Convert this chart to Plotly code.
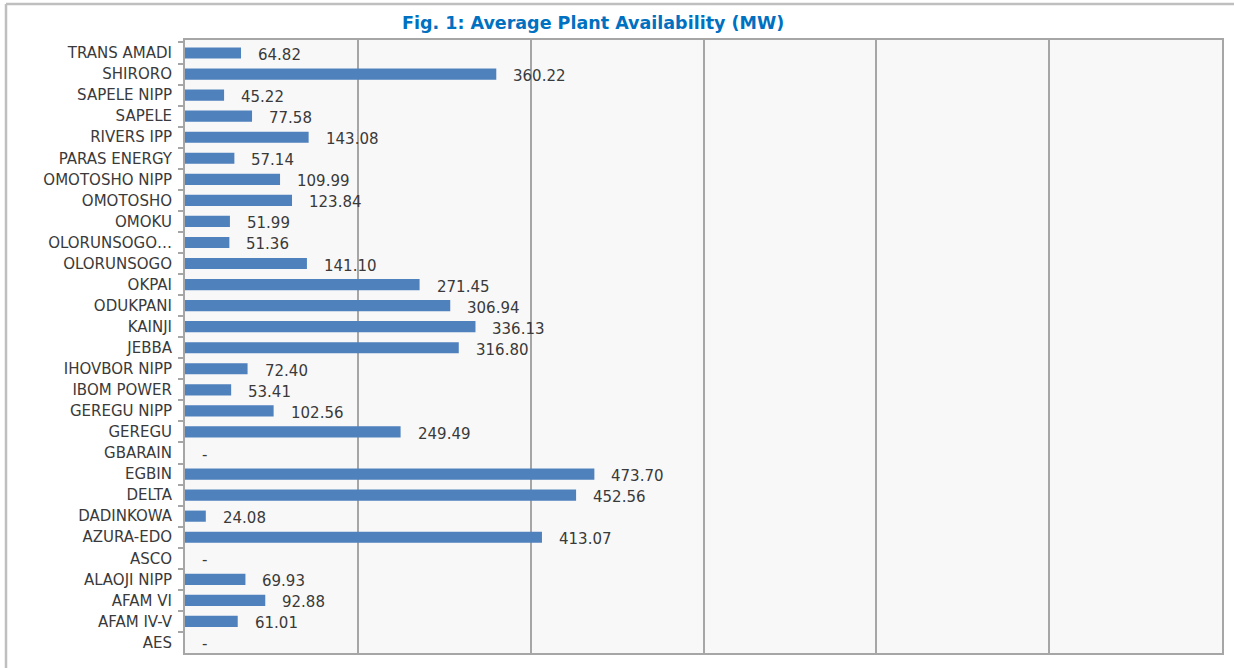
import plotly.graph_objects as go

categories = ["TRANS AMADI", "SHIRORO", "SAPELE NIPP", "SAPELE", "RIVERS IPP", "PARAS ENERGY",
              "OMOTOSHO NIPP", "OMOTOSHO", "OMOKU", "OLORUNSOGO…", "OLORUNSOGO", "OKPAI",
              "ODUKPANI", "KAINJI", "JEBBA", "IHOVBOR NIPP", "IBOM POWER", "GEREGU NIPP",
              "GEREGU", "GBARAIN", "EGBIN", "DELTA", "DADINKOWA", "AZURA-EDO", "ASCO",
              "ALAOJI NIPP", "AFAM VI", "AFAM IV-V", "AES"]
values = [64.82, 360.22, 45.22, 77.58, 143.08, 57.14, 109.99, 123.84, 51.99, 51.36, 141.10,
          271.45, 306.94, 336.13, 316.80, 72.40, 53.41, 102.56, 249.49, 0, 473.70, 452.56,
          24.08, 413.07, 0, 69.93, 92.88, 61.01, 0]
labels = ["-" if v == 0 else f"{v:.2f}" for v in values]

W, H = 1234, 668
L, R, T, B = 185, 12, 40, 15
pw, ph = W - L - R, H - T - B

FONT = "DejaVu Sans"
TXT = "#3a3a3a"
GRID = "#a6a6a6"

fig = go.Figure()
fig.add_trace(go.Bar(
    y=categories, x=values, orientation="h",
    marker=dict(color="#4f81bd", line=dict(width=0)),
    hoverinfo="x+y",
))

for c, v, t in zip(categories, values, labels):
    fig.add_annotation(x=v, y=c, xref="x", yref="y", text=t, showarrow=False,
                       xanchor="left", yanchor="middle", xshift=15, yshift=-2,
                       font=dict(family=FONT, size=15, color=TXT))

def px(x):
    return (x - L) / pw

def py(y):
    return 1 - (y - T) / ph

# outer frame (top and left lines)
fig.add_shape(type="line", xref="paper", yref="paper", x0=px(6), x1=px(1234), y0=py(4), y1=py(4),
              line=dict(color="#bfbfbf", width=2.5))
fig.add_shape(type="line", xref="paper", yref="paper", x0=px(6), x1=px(6), y0=py(4), y1=py(670),
              line=dict(color="#bfbfbf", width=2.5))

fig.add_annotation(x=px(593), y=py(23), xref="paper", yref="paper", showarrow=False,
                   text="<b>Fig. 1: Average Plant Availability (MW)</b>",
                   xanchor="center", yanchor="middle",
                   font=dict(family=FONT, size=17.5, color="#0070c0"))

fig.update_layout(
    width=W, height=H,
    margin=dict(l=L, r=R, t=T, b=B, autoexpand=False),
    paper_bgcolor="white", plot_bgcolor="#f8f8f8",
    bargap=0.47, showlegend=False,
    font=dict(family=FONT, size=15, color=TXT),
)
fig.update_xaxes(range=[0, 1200], dtick=200, tick0=0, showgrid=True, gridcolor=GRID, gridwidth=2,
                 showticklabels=False, ticks="", zeroline=False,
                 showline=True, linecolor=GRID, linewidth=2, mirror=True)
fig.update_yaxes(autorange="reversed", type="category", tickson="boundaries", ticks="outside",
                 ticklen=5, tickwidth=2, tickcolor=GRID, ticklabelstandoff=8,
                 showline=True, linecolor=GRID, linewidth=2, mirror=True, showgrid=False,
                 tickfont=dict(family=FONT, size=15, color=TXT))

fig.write_html("out.html")
